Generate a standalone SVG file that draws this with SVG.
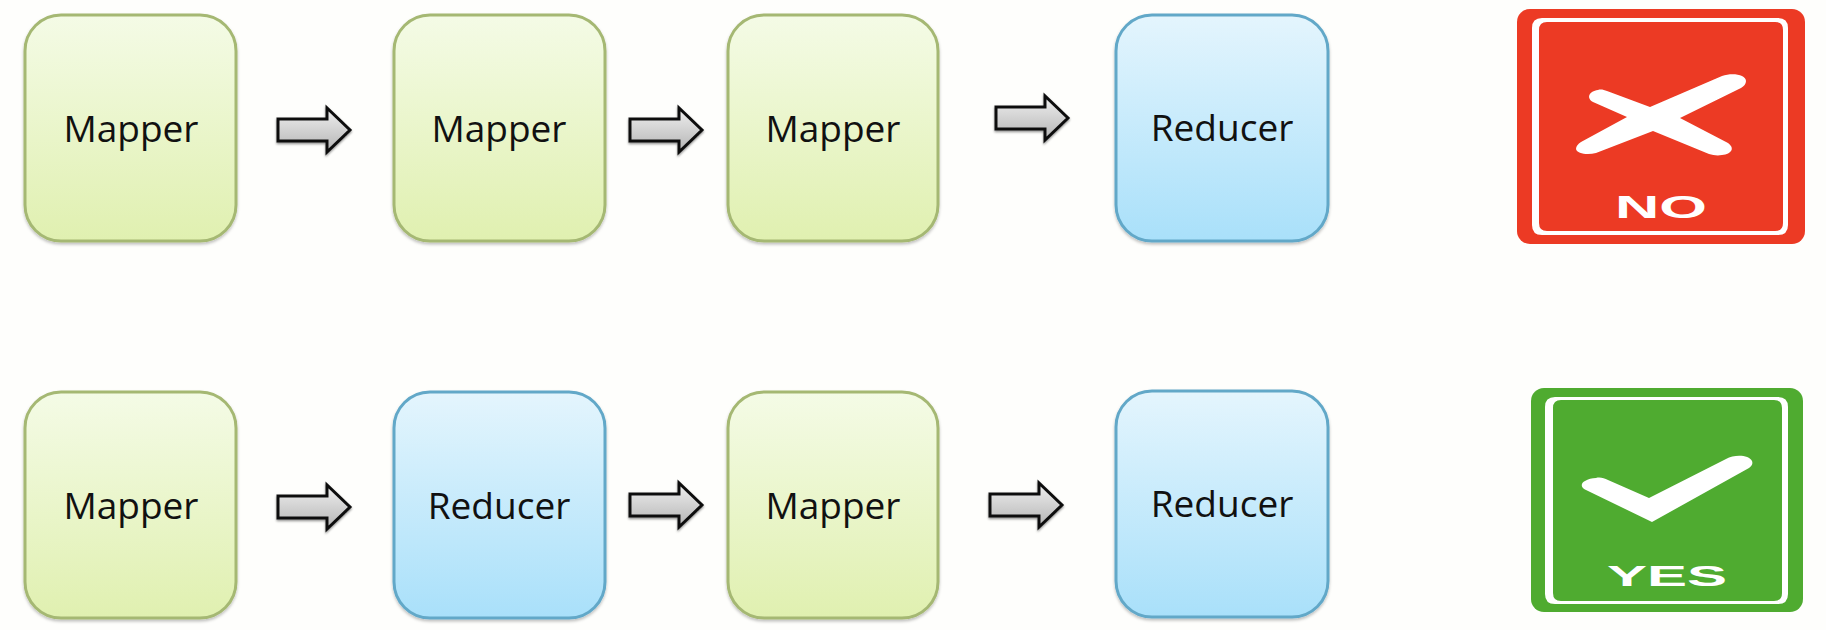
<svg xmlns="http://www.w3.org/2000/svg" width="1826" height="630" viewBox="0 0 1826 630">
<style>
.box{stroke-width:3;filter:url(#sh)}
.m{fill:url(#gm);stroke:#a5b873}
.r{fill:url(#gr);stroke:#62a8c8}
.t{font-family:"Open Sans","Noto Sans",sans-serif;font-size:37px;fill:#111;text-anchor:middle}
.arrow{fill:url(#ga);stroke:#111;stroke-width:3;filter:url(#as)}
.sign{font-family:"Liberation Sans",sans-serif;font-weight:bold;fill:#fff;text-anchor:middle}
</style>
<defs>
<linearGradient id="gm" x1="0" y1="0" x2="0" y2="1"><stop offset="0" stop-color="#f4fbe6"/><stop offset="1" stop-color="#e0f0b0"/></linearGradient>
<linearGradient id="gr" x1="0" y1="0" x2="0" y2="1"><stop offset="0" stop-color="#e4f5fd"/><stop offset="1" stop-color="#a9e0fa"/></linearGradient>
<linearGradient id="ga" x1="0" y1="0" x2="0" y2="1"><stop offset="0" stop-color="#f0f0f0"/><stop offset="1" stop-color="#b4b4b4"/></linearGradient>
<filter id="sh" x="-5%" y="-5%" width="110%" height="110%"><feGaussianBlur in="SourceGraphic" stdDeviation=".5" result="b"/><feDropShadow in="b" dx="0" dy="2" stdDeviation="1.5" flood-color="#000" flood-opacity=".25"/></filter>
<filter id="as" x="-10%" y="-10%" width="120%" height="130%"><feGaussianBlur in="SourceGraphic" stdDeviation=".5" result="b"/><feDropShadow in="b" dx="0" dy="1.5" stdDeviation="1" flood-color="#000" flood-opacity=".45"/></filter>
<path id="arr" d="M0 -11H49V-22L72 0L49 22V11H0Z"/>
</defs>
<rect width="1826" height="630" fill="#fefefc"/>
<g id="connectors">
<use href="#arr" class="arrow" transform="translate(278 130)"/>
<use href="#arr" class="arrow" transform="translate(630 130)"/>
<use href="#arr" class="arrow" transform="translate(996 118)"/>
<use href="#arr" class="arrow" transform="translate(278 507)"/>
<use href="#arr" class="arrow" transform="translate(630 505)"/>
<use href="#arr" class="arrow" transform="translate(990 505)"/>
</g>
<g id="n1"><rect class="box m" x="25" y="15" width="211" height="226" rx="36"/><text class="t" x="131" y="142">Mapper</text></g>
<g id="n2"><rect class="box m" x="394" y="15" width="211" height="226" rx="36"/><text class="t" x="499" y="142">Mapper</text></g>
<g id="n3"><rect class="box m" x="728" y="15" width="210" height="226" rx="36"/><text class="t" x="833" y="142">Mapper</text></g>
<g id="n4"><rect class="box r" x="1116" y="15" width="212" height="226" rx="36"/><text class="t" x="1222" y="141">Reducer</text></g>
<g id="n5"><rect class="box m" x="25" y="392" width="211" height="226" rx="36"/><text class="t" x="131" y="519">Mapper</text></g>
<g id="n6"><rect class="box r" x="394" y="392" width="211" height="226" rx="36"/><text class="t" x="499" y="519">Reducer</text></g>
<g id="n7"><rect class="box m" x="728" y="392" width="210" height="226" rx="36"/><text class="t" x="833" y="519">Mapper</text></g>
<g id="n8"><rect class="box r" x="1116" y="391" width="212" height="226" rx="36"/><text class="t" x="1222" y="517">Reducer</text></g>
<g id="no">
<rect x="1517" y="9" width="288" height="235" rx="13" fill="#ec3a24"/>
<path fill-rule="evenodd" fill="#fff" d="M1542 18H1778Q1788 18 1788 28V225Q1788 235 1778 235H1542Q1532 235 1532 225V28Q1532 18 1542 18ZM1547 22Q1539 22 1539 30V223Q1539 231 1547 231H1775Q1783 231 1783 223V30Q1783 22 1775 22Z"/>
<path fill="#fff" d="M1722 76C1733 72 1746 75 1746 81C1746 84 1744 86 1741 88L1680 118L1728 143C1735 148 1732 154 1722 155C1717 156 1713 155 1709 154L1653 131L1596 153C1588 155 1577 154 1576 149C1576 146 1578 144 1581 142L1627 117L1593 102C1586 98 1589 91 1598 90C1601 89 1604 90 1607 91L1650 107Z"/>
<text class="sign" x="1661" y="218" font-size="32" textLength="92" lengthAdjust="spacingAndGlyphs">NO</text>
</g>
<g id="yes">
<rect x="1531" y="388" width="272" height="224" rx="13" fill="#4fab30"/>
<path fill-rule="evenodd" fill="#fff" d="M1555 397H1778Q1788 397 1788 407V594Q1788 604 1778 604H1555Q1545 604 1545 594V407Q1545 397 1555 397ZM1561 400Q1553 400 1553 408V593Q1553 601 1561 601H1774Q1782 601 1782 593V408Q1782 400 1774 400Z"/>
<path fill="#fff" d="M1596 478C1600 477 1604 478 1608 480L1649 498L1726 459C1735 454 1749 455 1752 461C1753 464 1752 466 1749 468L1652 522L1586 490C1580 487 1581 483 1585 481C1588 479 1592 478 1596 478Z"/>
<text class="sign" x="1667" y="586" font-size="30" textLength="120" lengthAdjust="spacingAndGlyphs">YES</text>
</g>
</svg>
